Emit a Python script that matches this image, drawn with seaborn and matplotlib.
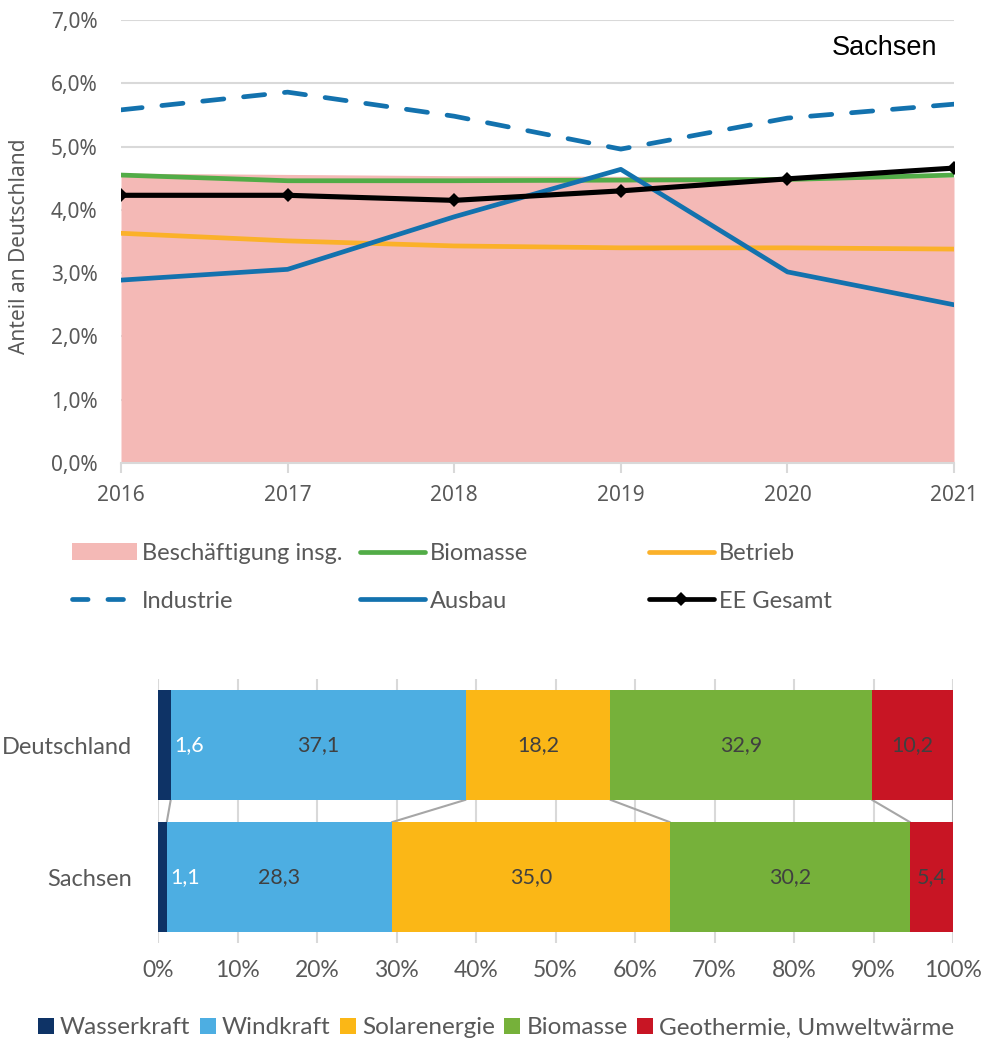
import matplotlib
matplotlib.use("Agg")
import matplotlib.pyplot as plt
import seaborn as sns
import numpy as np
import pandas as pd
from matplotlib.lines import Line2D
from matplotlib.patches import Patch
from matplotlib.ticker import FixedLocator, FuncFormatter

# ---------------- data ----------------
years = [2016, 2017, 2018, 2019, 2020, 2021]
beschaeftigung = [4.58, 4.56, 4.54, 4.53, 4.52, 4.52]
biomasse = [4.55, 4.46, 4.46, 4.47, 4.48, 4.55]
betrieb = [3.63, 3.51, 3.43, 3.40, 3.40, 3.38]
industrie = [5.58, 5.86, 5.48, 4.96, 5.45, 5.67]
ausbau = [2.89, 3.06, 3.89, 4.64, 3.02, 2.50]
ee_gesamt = [4.23, 4.23, 4.15, 4.30, 4.49, 4.66]

regions = ["Deutschland", "Sachsen"]
sources = ["Wasserkraft", "Windkraft", "Solarenergie", "Biomasse", "Geothermie, Umweltwärme"]
shares_de = [1.6, 37.1, 18.2, 32.9, 10.2]
shares_sn = [1.1, 28.3, 35.0, 30.2, 5.4]

# ---------------- style ----------------
sns.set_theme(style="white")
plt.rcParams["font.family"] = ["Noto Sans", "DejaVu Sans"]
GRAY_TXT = "#595959"
GRID = "#D9D9D9"
LATO = ["Lato", "DejaVu Sans"]

c_area = "#F4B9B6"
c_bio = "#52AC47"
c_betr = "#FBB12A"
c_blue = "#1372AE"
c_black = "#000000"
bar_colors = ["#0E3366", "#4DAEE2", "#FBB716", "#76B13A", "#C81524"]

fig = plt.figure(figsize=(9.82, 10.42), dpi=100)
W, H = 982, 1042

def ax_rect(x0, y0, x1, y1):
    return [x0 / W, 1 - y1 / H, (x1 - x0) / W, (y1 - y0) / H]

LW = 3.4
DASH = (0, (4.5, 4.2))

# ---------------- top chart ----------------
ax = fig.add_axes(ax_rect(121, 20, 954, 463))
ax.fill_between(years, 0, beschaeftigung, color=c_area, lw=0, zorder=1)
sns.lineplot(x=years, y=biomasse, ax=ax, color=c_bio, linewidth=LW, zorder=3)
sns.lineplot(x=years, y=betrieb, ax=ax, color=c_betr, linewidth=LW, zorder=3)
sns.lineplot(x=years, y=industrie, ax=ax, color=c_blue, linewidth=LW,
             linestyle=DASH, zorder=3, dash_capstyle="round")
sns.lineplot(x=years, y=ausbau, ax=ax, color=c_blue, linewidth=LW, zorder=4)
sns.lineplot(x=years, y=ee_gesamt, ax=ax, color=c_black, linewidth=LW + 0.3,
             marker="D", markersize=7.5, markeredgewidth=0, zorder=5)

ax.set_xlim(2016, 2021)
ax.set_ylim(0, 7)
ax.yaxis.set_major_locator(FixedLocator(np.arange(0, 7.01, 1)))
ax.yaxis.set_major_formatter(FuncFormatter(lambda v, p: f"{v:.1f}%".replace(".", ",")))
ax.set_xticks(years)
ax.set_xticklabels([str(y) for y in years])
ax.grid(axis="y", color=GRID, lw=1.5, zorder=0)
ax.set_axisbelow(True)
for s in ["top", "right", "left"]:
    ax.spines[s].set_visible(False)
ax.spines["bottom"].set_color(GRID)
ax.spines["bottom"].set_linewidth(1.5)
ax.tick_params(axis="y", length=0, pad=17, labelsize=15, labelcolor=GRAY_TXT)
ax.tick_params(axis="x", length=7, width=1.5, color=GRID, pad=9,
               labelsize=15, labelcolor=GRAY_TXT, bottom=True)
ax.set_xlabel("")
ax.set_ylabel("")
fig.text(20 / W, 1 - 246 / H, "Anteil an Deutschland", rotation=90,
         ha="center", va="center", fontsize=15, color=GRAY_TXT)
fig.text(937 / W, 1 - 48 / H, "Sachsen", ha="right", va="center",
         fontsize=19.5, color="black", family=["Liberation Sans", "DejaVu Sans"])

# legends for top chart (three columns)
lfont = {"family": LATO, "size": 17}
cols = [
    [(Patch(facecolor=c_area, edgecolor="none"), "Beschäftigung insg."),
     (Line2D([], [], color=c_blue, lw=LW, linestyle=(0, (3.3, 4.2)), dash_capstyle="round"), "Industrie")],
    [(Line2D([], [], color=c_bio, lw=LW, solid_capstyle="round"), "Biomasse"),
     (Line2D([], [], color=c_blue, lw=LW, solid_capstyle="round"), "Ausbau")],
    [(Line2D([], [], color=c_betr, lw=LW, solid_capstyle="round"), "Betrieb"),
     (Line2D([], [], color=c_black, lw=LW, marker="D", markersize=7.5, markeredgewidth=0), "EE Gesamt")],
]
xs = [72, 360, 649]
for xcol, col in zip(xs, cols):
    leg = fig.legend([h for h, _ in col], [l for _, l in col], loc="upper left",
                     bbox_to_anchor=(xcol / W, 1 - 543 / H), frameon=False,
                     prop=lfont, handlelength=2.75, handletextpad=0.2,
                     labelspacing=1.13, borderpad=0, borderaxespad=0)
    for t in leg.get_texts():
        t.set_color(GRAY_TXT)

# ---------------- bottom chart ----------------
ax2 = fig.add_axes(ax_rect(158, 679, 953, 943))
cum_de = np.cumsum(shares_de)
cum_sn = np.cumsum(shares_sn)
for i in range(len(sources) - 1, -1, -1):
    df = pd.DataFrame({"region": regions, "cum": [cum_de[i], cum_sn[i]]})
    sns.barplot(data=df, x="cum", y="region", orient="h", color=bar_colors[i],
                saturation=1, width=0.83, linewidth=0, ax=ax2, zorder=3)

half = 0.83 / 2
for k in range(len(sources)):
    ax2.plot([cum_de[k], cum_sn[k]], [0 + half, 1 - half], color="#A6A6A6", lw=1.5, zorder=2)

for ri, shares in enumerate([shares_de, shares_sn]):
    start = 0
    for i, v in enumerate(shares):
        lab = f"{v:.1f}".replace(".", ",")
        if i == 0:
            ax2.text(start + v + 0.5, ri, lab, ha="left", va="center", color="white",
                     fontsize=15.5, family=LATO, zorder=5)
        else:
            ax2.text(start + v / 2, ri, lab, ha="center", va="center", color="#404040",
                     fontsize=15.5, family=LATO, zorder=5)
        start += v

ax2.set_xlim(0, 100)
ax2.set_ylim(1.5, -0.5)
ax2.set_xticks(np.arange(0, 101, 10))
ax2.set_xticklabels([f"{t}%" for t in range(0, 101, 10)], family=LATO)
ax2.set_yticks([0, 1])
ax2.set_yticklabels(regions, family=LATO)
ax2.grid(axis="x", color=GRID, lw=1.5, zorder=0)
ax2.set_axisbelow(True)
for s in ["top", "right", "left", "bottom"]:
    ax2.spines[s].set_visible(False)
ax2.tick_params(axis="x", length=0, pad=12, labelsize=16.5, labelcolor=GRAY_TXT)
ax2.tick_params(axis="y", length=0, pad=19, labelsize=17.0, labelcolor=GRAY_TXT)
ax2.set_xlabel("")
ax2.set_ylabel("")

handles = [Patch(facecolor=c, edgecolor="none") for c in bar_colors]
leg2 = fig.legend(handles, sources, loc="center", bbox_to_anchor=(496 / W, 1 - 1028 / H),
                  ncol=5, frameon=False, prop={"family": LATO, "size": 17.5},
                  handlelength=0.65, handleheight=0.65, handletextpad=0.25, columnspacing=0.4,
                  borderpad=0, borderaxespad=0)
for t in leg2.get_texts():
    t.set_color(GRAY_TXT)

fig.savefig("out.png", dpi=100)
